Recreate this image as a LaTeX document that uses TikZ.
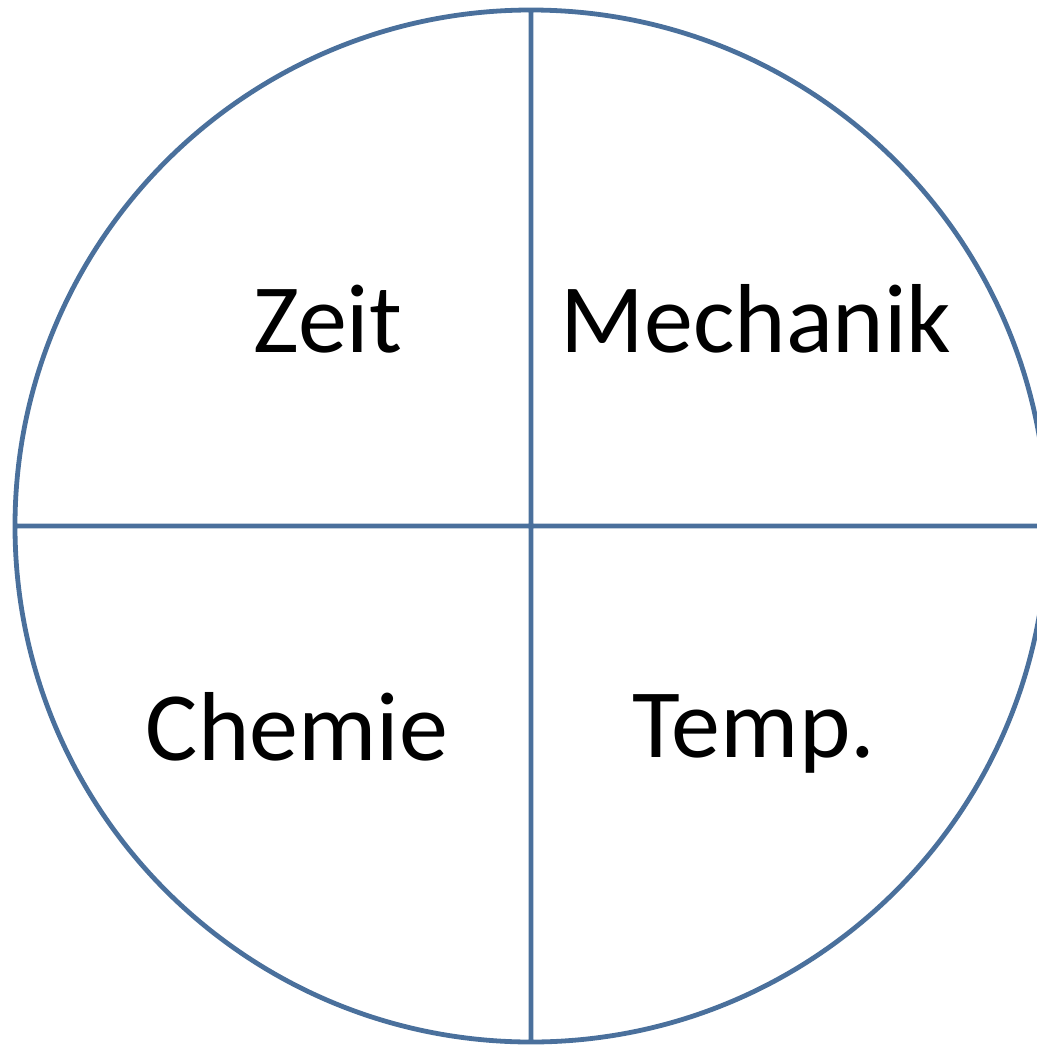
\documentclass[tikz,border=0pt]{standalone}
\usepackage{fontspec}
\setmainfont{Carlito}
\definecolor{rimblue}{RGB}{74,112,156}

\begin{document}
\begin{tikzpicture}[
    x = 0.5pt, y = -0.5pt,
    rim/.style = {draw = rimblue, line width = 2.4pt},
    every node/.style = {anchor = base, inner sep = 0pt,
                         font = \fontsize{49}{59}\selectfont}]

\useasboundingbox (0,0) rectangle (1037,1045);
\clip (0,0) rectangle (1037,1045);

\coordinate (m) at (531,526);
\draw[rim] (m) circle [radius = 516pt/2]
	  (531,10) -- (531,1042)
	  (15,526) -- (1047,526);
\path (328,352) node(zeit) {Zeit}
	  (756,352) node(mech) {Mechanik}
	  (297,760) node(chem) {Chemie}
	  (754,757) node(temp) {Temp.}
	  ;
\end{tikzpicture}
\end{document}
